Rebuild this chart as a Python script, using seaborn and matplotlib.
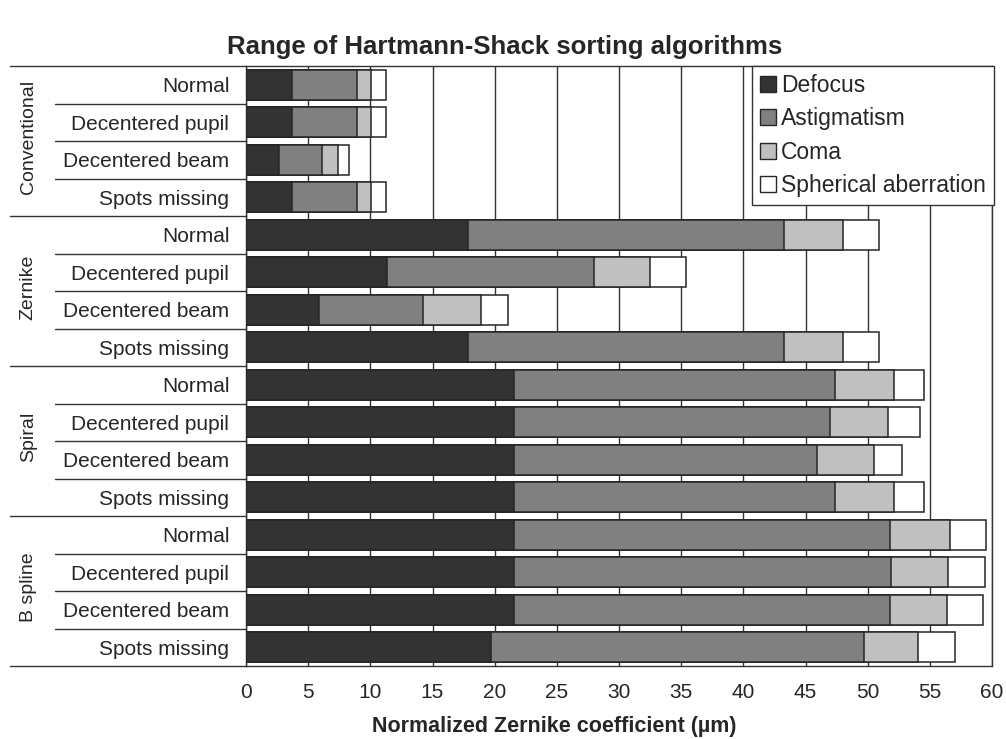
import pandas as pd
import matplotlib.pyplot as plt
import matplotlib.transforms as mtransforms
from matplotlib.patches import Patch
import seaborn as sns

# Data (segment widths, µm)
groups = ['Conventional', 'Zernike', 'Spiral', 'B spline']
conditions = ['Normal', 'Decentered pupil', 'Decentered beam', 'Spots missing']
components = ['Defocus', 'Astigmatism', 'Coma', 'Spherical aberration']

defocus = [3.69, 3.69, 2.62, 3.69, 17.87, 11.33, 5.86, 17.87,
           21.58, 21.58, 21.58, 21.58, 21.58, 21.58, 21.58, 19.70]
astigmatism = [5.26, 5.26, 3.53, 5.26, 25.41, 16.67, 8.41, 25.41,
               25.81, 25.39, 24.32, 25.81, 30.18, 30.30, 30.18, 30.04]
coma = [1.12, 1.12, 1.28, 1.12, 4.71, 4.50, 4.63, 4.71,
        4.76, 4.63, 4.60, 4.76, 4.84, 4.60, 4.64, 4.32]
spherical = [1.18, 1.18, 0.83, 1.18, 2.91, 2.90, 2.20, 2.91,
             2.42, 2.58, 2.30, 2.42, 2.89, 2.92, 2.90, 2.93]

colors = ['#333333', '#808080', '#c0c0c0', '#ffffff']
edge = '#262626'

# Build table of stacked (cumulative) values
rows = [f'{g}|{c}' for g in groups for c in conditions]
df = pd.DataFrame({'row': rows, 'Defocus': defocus, 'Astigmatism': astigmatism,
                   'Coma': coma, 'Spherical aberration': spherical})
cum = df[components].cumsum(axis=1)
cum['row'] = df['row']

sns.set_style('white')
plt.rcParams['font.family'] = ['Liberation Sans', 'DejaVu Sans']

fig = plt.figure(figsize=(10.06, 7.39), dpi=100)
ax = fig.add_axes([246 / 1006, 1 - 666 / 739, 746 / 1006, 600 / 739])

# Draw from the longest cumulative segment down so the stacks show
for comp, col in reversed(list(zip(components, colors))):
    sns.barplot(data=cum, x=comp, y='row', order=rows, orient='h', color=col,
                edgecolor=edge, linewidth=1.1, width=0.8, saturation=1, ax=ax, zorder=3)

ax.set_xlim(0, 60)
ax.set_ylim(len(rows) - 0.5, -0.5)
ax.set_xticks(range(0, 61, 5))
ax.grid(axis='x', color='#333333', linewidth=1.0, zorder=0)
ax.grid(axis='y', visible=False)
ax.set_axisbelow(True)
for s in ax.spines.values():
    s.set_color('#333333')
    s.set_linewidth(1.0)

ax.tick_params(axis='x', length=5, color='#888888', labelsize=15, pad=7)
ax.set_yticks(range(len(rows)))
ax.set_yticklabels([r.split('|')[1] for r in rows])
ax.tick_params(axis='y', length=0, labelsize=15, pad=12)
ax.set_ylabel('')
ax.set_xlabel('')

# Separator lines in the label area
trans = mtransforms.blended_transform_factory(ax.transAxes, ax.transData)
for i in range(len(rows) + 1):
    y = i - 0.5
    if i % 4 == 0:
        x0 = -0.3164
    else:
        x0 = -0.256
    ax.plot([x0, 0], [y, y], color='#333333', lw=1.0, transform=trans, clip_on=False)

# Group labels
for gi, g in enumerate(groups):
    ax.text(-0.292, gi * 4 + 1.4, g, rotation=90, ha='center', va='center',
            fontsize=14, transform=trans)

# Legend
handles = [Patch(facecolor=c, edgecolor=edge, label=l) for c, l in zip(colors, components)]
leg = ax.legend(handles=handles, loc='upper right', bbox_to_anchor=(1.003, 1.0),
                borderaxespad=0, fontsize=16.5, handlelength=0.7, handleheight=0.7,
                handletextpad=0.25, labelspacing=0.45, borderpad=0.35,
                fancybox=False, framealpha=1, edgecolor='#333333')
leg.get_frame().set_linewidth(1.0)

fig.text(0.502, 0.937, 'Range of Hartmann-Shack sorting algorithms', ha='center',
         va='center', fontsize=18.5, fontweight='bold')
fig.text(0.551, 0.017, 'Normalized Zernike coefficient (µm)', ha='center',
         va='center', fontsize=15.5, fontweight='bold')

fig.savefig('out.png', dpi=100)
